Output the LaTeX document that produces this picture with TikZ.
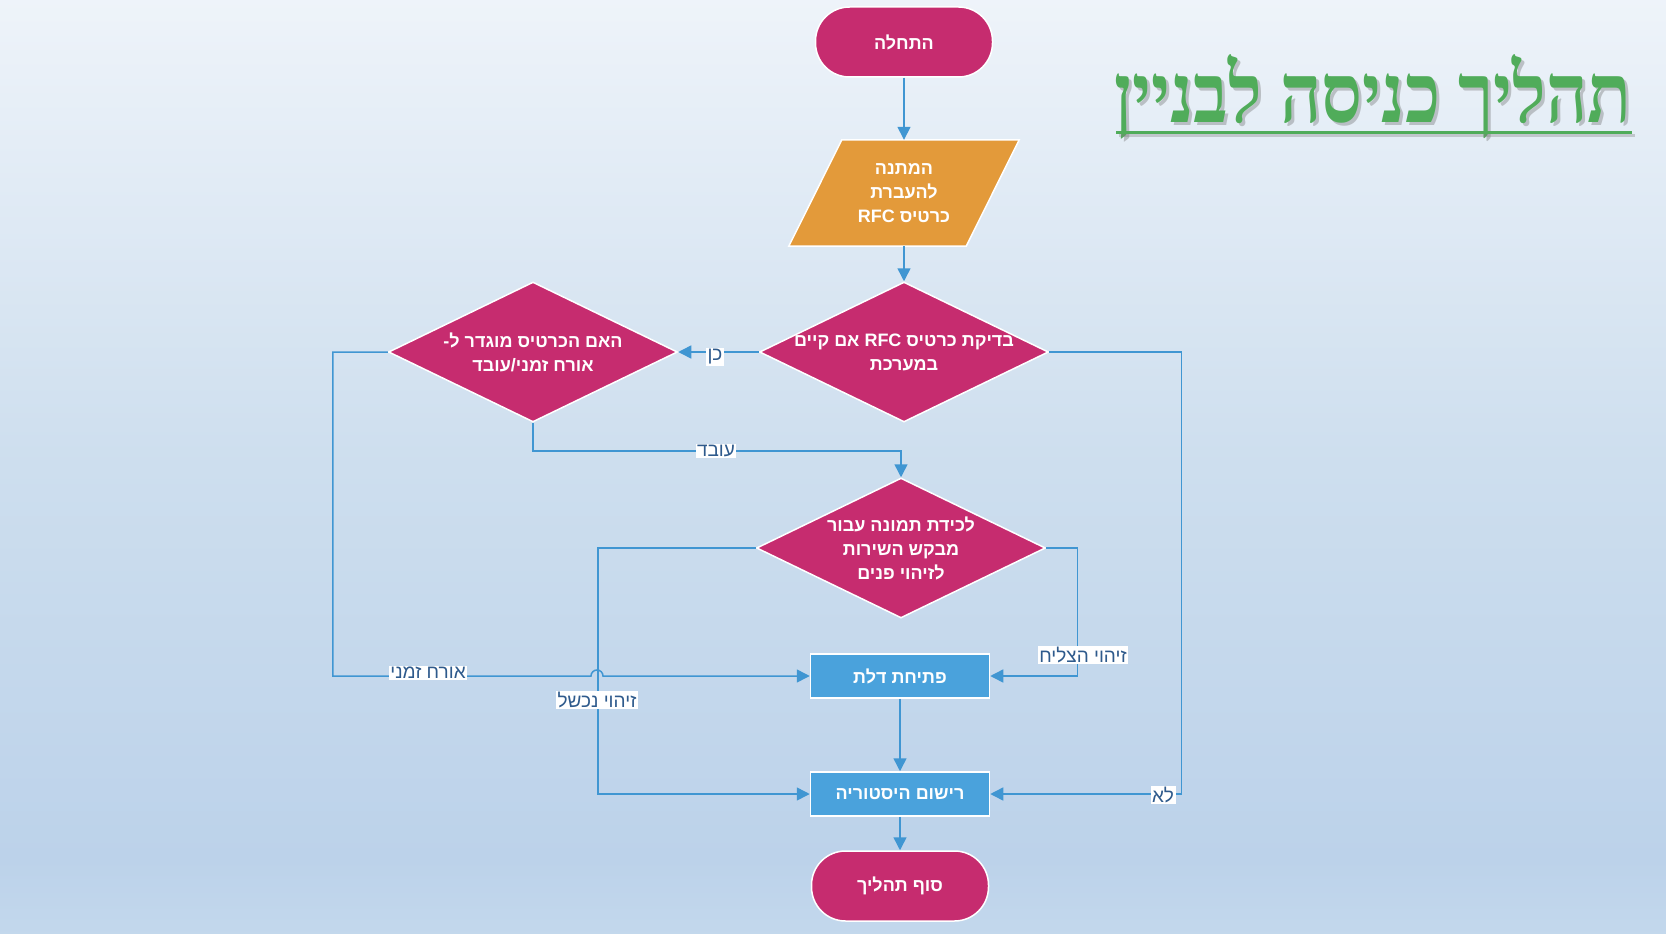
\documentclass[tikz,border=0pt]{standalone}
\usepackage{fontspec}
\usetikzlibrary{shapes.geometric,arrows.meta,calc}
\newfontfamily\hebfont[Script=Hebrew]{Liberation Sans}
\newfontfamily\titlefont[Script=Hebrew]{Liberation Serif}
\TeXXeTstate=1
\newcommand{\heb}[1]{\beginR #1\endR}
\definecolor{magentaF}{RGB}{198,44,111}
\definecolor{orangeF}{RGB}{227,154,58}
\definecolor{blueF}{RGB}{74,162,220}
\definecolor{lineC}{RGB}{64,150,210}
\definecolor{labC}{RGB}{46,90,140}
\definecolor{titleG}{RGB}{80,172,90}
\definecolor{bgtop}{RGB}{242,246,251}
\definecolor{bgmid}{RGB}{205,222,238}
\definecolor{bglow}{RGB}{188,210,234}
\definecolor{bgbot}{RGB}{200,220,238}
\pgfdeclareverticalshading{bgshade}{100bp}{color(0bp)=(bgbot); color(22bp)=(bgbot); color(29bp)=(bglow); color(50bp)=(bgmid); color(78bp)=(bgtop); color(100bp)=(bgtop)}
\tikzset{
  base/.style={draw=white, line width=1.5pt},
  txt/.style={text=white, font=\hebfont\bfseries\fontsize{18}{24}\selectfont, align=center, inner sep=0pt},
  term/.style={base, fill=magentaF, rectangle, rounded corners=34pt, minimum width=177pt, minimum height=70pt, txt},
  dec/.style={base, fill=magentaF, diamond, inner sep=0pt, minimum width=289pt, minimum height=140pt},
  proc/.style={base, fill=blueF, rectangle, minimum width=179pt, minimum height=44pt, txt},
  iobox/.style={rectangle, minimum width=230pt, minimum height=106pt, inner sep=0pt},
  conn/.style={draw=lineC, line width=1.5pt, -{Triangle[length=13pt,width=13pt]}},
  lab/.style={fill=white, text=labC, font=\hebfont\fontsize{19}{22}\selectfont, inner sep=1.5pt},
  titlestyle/.style={anchor=base, font=\titlefont\bfseries\fontsize{72}{80}\selectfont},
}
\newcommand{\titletext}{\scalebox{1}[1.15]{\heb{תהליך כניסה לבניין}}}
\begin{document}
\begin{tikzpicture}[x=1pt,y=-1pt]
\useasboundingbox (0,0) rectangle (1666,934);
\shade[shading=bgshade] (0,0) rectangle (1666,934);

% title
\node[titlestyle, text=black!60, opacity=0.35] at (1376,125) {\titletext};
\node[titlestyle, text=titleG] (title) at (1373,122) {\titletext};
\draw[black!50, opacity=0.35, line width=3pt] (1119,135) -- (1635,135);
\draw[titleG, line width=3pt] (1116,132) -- (1632,132);

% nodes
\node[term] (s) at (904,42) {\heb{התחלה}};

\node[iobox] (io) at (904,193) {};
\filldraw[base, fill=orangeF] ($(io.north west)+(53,0)$) -- (io.north east) -- ($(io.south east)-(53,0)$) -- (io.south west) -- cycle;
\node[txt] at (io) {\heb{המתנה}\\\heb{להעברת}\\\heb{כרטיס \beginL RFC\endL}};

\node[dec] (d1) at (904,352) {};
\node[txt] at (d1) {\heb{בדיקת כרטיס \beginL RFC\endL{} אם קיים}\\\heb{במערכת}};

\node[dec] (d2) at (533,352) {};
\node[txt] at (d2) {\heb{האם הכרטיס מוגדר ל-}\\\heb{אורח זמני/עובד}};

\node[dec] (d3) at (901,548) {};
\node[txt] at (d3) {\heb{לכידת תמונה עבור}\\\heb{מבקש השירות}\\\heb{לזיהוי פנים}};

\node[proc] (p1) at (900,676) {\heb{פתיחת דלת}};
\node[proc] (p2) at (900,794) {\heb{רישום היסטוריה}};
\node[term] (e) at (900,886) {\heb{סוף תהליך}};

% connectors
\coordinate (hopL) at (591,676);
\draw[conn] (s.south) -- (io.north);
\draw[conn] (io.south) -- (d1.north);
\draw[conn] (d1.west) -- (d2.east);
\draw[conn] (d1.east) -- ++(132,0) |- (p2.east);
\draw[conn] (d2.south) -- ++(0,28) -| (d3.north);
\draw[conn] (d2.west) -- ++(-55,0) |- (hopL) arc[start angle=180, end angle=360, radius=6] -- (p1.west);
\draw[conn] (d3.west) -- ++(-158,0) |- (p2.west);
\draw[conn] (d3.east) -- ++(31,0) |- (p1.east);
\draw[conn] (p1.south) -- (p2.north);
\draw[conn] (p2.south) -- (e.north);

% labels
\node[lab] at (715,357) {\heb{כן}};
\node[lab] at (716,451) {\heb{עובד}};
\node[lab] at (1163,795) {\heb{לא}};
\node[lab] at (1083,655) {\heb{זיהוי הצליח}};
\node[lab] at (428,673) {\heb{אורח זמני}};
\node[lab] at (597,700) {\heb{זיהוי נכשל}};
\end{tikzpicture}
\end{document}
